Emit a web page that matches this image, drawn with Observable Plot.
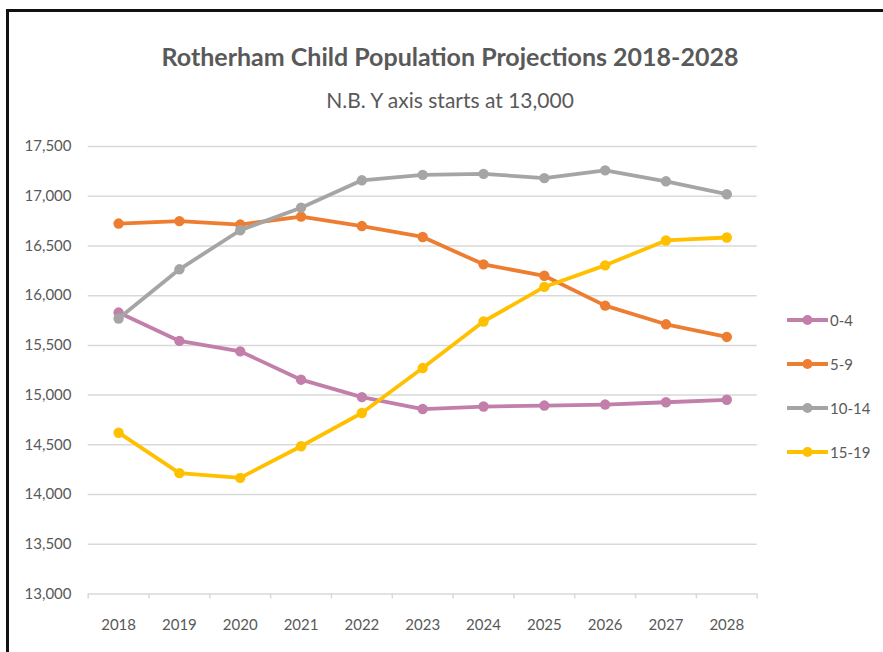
<!DOCTYPE html>
<html>
<head>
<meta charset="utf-8">
<script src="https://cdn.jsdelivr.net/npm/d3@7"></script>
<script src="https://cdn.jsdelivr.net/npm/@observablehq/plot@0.6"></script>
<style>
  html, body { margin: 0; padding: 0; background: #fff; }
  #page { position: relative; width: 883px; height: 652px; overflow: hidden; font-family: Lato, "Open Sans", sans-serif; color: #595959; }
  #frame { position: absolute; left: 6px; top: 9px; width: 920px; height: 700px; border-top: 3px solid #111; border-left: 3px solid #111; }
  .title { position: absolute; left: 0; width: 900px; text-align: center; white-space: nowrap; line-height: 1; }
  #t1 { top: 44px; font-size: 25px; font-weight: bold; }
  #t2 { top: 89px; font-size: 21px; }
  #chart { position: absolute; left: 0; top: 120px; }
  #legend { position: absolute; left: 0; top: 0; }
  .entry { position: absolute; left: 787px; height: 20px; display: flex; align-items: center; font-size: 15px; white-space: nowrap; }
  .entry svg { display: block; margin-right: 2px; }
</style>
</head>
<body>
<div id="page">
  <div id="frame"></div>
  <div class="title" id="t1">Rotherham Child Population Projections 2018-2028</div>
  <div class="title" id="t2">N.B. Y axis starts at 13,000</div>
  <div id="chart"></div>
  <div id="legend"></div>
</div>
<script>
// Projection years and age bands
const years = [2018, 2019, 2020, 2021, 2022, 2023, 2024, 2025, 2026, 2027, 2028];
const series = ["0-4", "5-9", "10-14", "15-19"];
const colors = ["#C17FA9", "#ED7D31", "#A5A5A5", "#FFC000"];

// Projected child population by age band
const age0to4   = [15830, 15545, 15440, 15155, 14980, 14860, 14885, 14895, 14905, 14928, 14953];
const age5to9   = [16725, 16750, 16715, 16795, 16700, 16590, 16315, 16200, 15900, 15712, 15585];
const age10to14 = [15770, 16265, 16658, 16885, 17160, 17215, 17225, 17182, 17260, 17150, 17020];
const age15to19 = [14622, 14215, 14168, 14486, 14820, 15272, 15740, 16088, 16305, 16555, 16585];

// Value axis ticks
const yTicks = [13000, 13500, 14000, 14500, 15000, 15500, 16000, 16500, 17000, 17500];

const values = [age0to4, age5to9, age10to14, age15to19];
const data = series.flatMap((s, i) => years.map((year, j) => ({series: s, year, value: values[i][j]})));

// Category boundaries for the small x-axis tick marks
const bounds = years.map(y => y - 0.5).concat([years[years.length - 1] + 0.5]);

const grid = "#D9D9D9";

const chart = Plot.plot({
  width: 883,
  height: 530,
  marginTop: 26,
  marginBottom: 56.5,
  marginLeft: 87.7,
  marginRight: 126.3,
  x: {domain: [bounds[0], bounds[bounds.length - 1]]},
  y: {domain: [yTicks[0], yTicks[yTicks.length - 1]]},
  color: {domain: series, range: colors},
  style: {fontFamily: "Lato, 'Open Sans', sans-serif", fontSize: "15px", color: "#595959", background: "transparent", overflow: "visible"},
  marks: [
    Plot.gridY(yTicks, {stroke: grid, strokeOpacity: 1, strokeWidth: 1.5}),
    Plot.axisY({ticks: yTicks, tickSize: 0, tickPadding: 16.7, tickFormat: d3.format(","), label: null}),
    Plot.axisX({ticks: bounds, tickSize: 5, stroke: grid, strokeWidth: 1.5, tickFormat: () => "", label: null}),
    Plot.axisX({ticks: years, tickSize: 0, tickPadding: 25, tickFormat: d => String(d), label: null}),
    ...series.flatMap(s => {
      const rows = data.filter(d => d.series === s);
      return [
        Plot.line(rows, {x: "year", y: "value", stroke: "series", strokeWidth: 3.8, strokeLinejoin: "round"}),
        Plot.dot(rows, {x: "year", y: "value", fill: "series", r: 5.2})
      ];
    })
  ]
});
document.getElementById("chart").appendChild(chart);

// Legend: line-and-marker swatch per age band
const legend = document.getElementById("legend");
series.forEach((s, i) => {
  const row = document.createElement("div");
  row.className = "entry";
  row.style.top = (310 + i * 44) + "px";
  row.innerHTML = `<svg width="41" height="12"><line x1="0" y1="6" x2="41" y2="6" stroke="${colors[i]}" stroke-width="3.8"/><circle cx="20.5" cy="6" r="5" fill="${colors[i]}"/></svg><span>${s}</span>`;
  legend.appendChild(row);
});
</script>
</body>
</html>
